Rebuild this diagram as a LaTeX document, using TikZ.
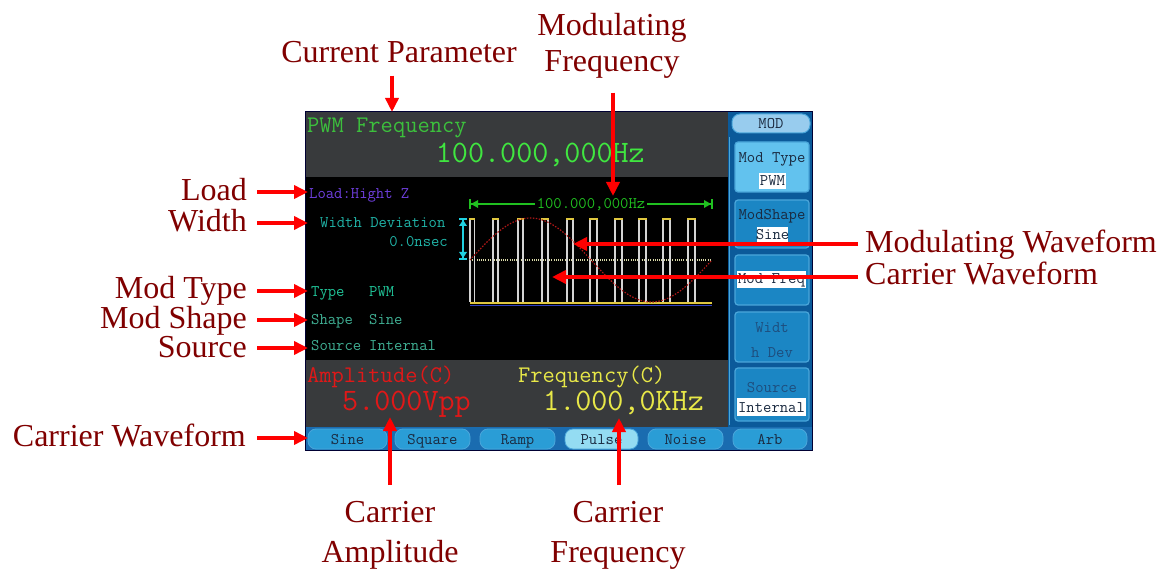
\documentclass[tikz,border=0pt]{standalone}
\usepackage{fontspec}
\setmainfont{Liberation Serif}
\usetikzlibrary{arrows.meta,calc}
\definecolor{labelred}{HTML}{800000}
\definecolor{arrowred}{HTML}{FF0000}
\definecolor{scrgray}{HTML}{383A3C}
\definecolor{pwmgreen}{HTML}{3CC03C}
\definecolor{biggreen}{HTML}{40E640}
\definecolor{loadpurple}{HTML}{7040E0}
\definecolor{tealA}{HTML}{20B4A8}
\definecolor{tealB}{HTML}{20C498}
\definecolor{tealC}{HTML}{40B094}
\definecolor{ampred}{HTML}{E01818}
\definecolor{ampyel}{HTML}{E8E848}
\definecolor{panelbg}{HTML}{0B5A9A}
\definecolor{btnfill}{HTML}{1B86C4}
\definecolor{btnedge}{HTML}{4AA6DA}
\definecolor{btnlight}{HTML}{62C2EE}
\definecolor{modhead}{HTML}{98CCEE}
\definecolor{barbg}{HTML}{1A6CB0}
\definecolor{tabfill}{HTML}{2A9DD6}
\definecolor{tablight}{HTML}{94DCF2}
\definecolor{tabtext}{HTML}{1A2A40}
\definecolor{mutedtext}{HTML}{1E4E7E}
\definecolor{sinered}{HTML}{B01818}
\definecolor{midline}{HTML}{D8D8A8}
\definecolor{capyel}{HTML}{E0C840}
\definecolor{pulsegray}{HTML}{D4D4D4}
\definecolor{measgreen}{HTML}{20C020}
\definecolor{markcyan}{HTML}{20D0E0}
\definecolor{baseblue}{HTML}{3040C0}
\tikzset{
  lbl/.style={text=labelred, font=\fontsize{32}{36}\selectfont, inner sep=0pt},
  callout/.style={draw=arrowred, line width=3.5pt, -{Triangle[length=14pt,width=13pt]}},
  scrS/.style={font=\ttfamily\fontsize{16.2}{18}\selectfont, inner sep=0pt},
  scrM/.style={font=\ttfamily\fontsize{23.8}{26}\selectfont, inner sep=0pt},
  scrL/.style={font=\ttfamily\fontsize{31.2}{34}\selectfont, inner sep=0pt},
  tabbox/.style={fill=tabfill, draw=btnedge, line width=0.8pt, rounded corners=8pt},
  btnbox/.style={fill=btnfill, draw=btnedge, line width=1.2pt, rounded corners=3pt},
  valbox/.style={fill=white, draw=none},
  pulseline/.style={draw=pulsegray, line width=1.3pt},
  pulsecap/.style={draw=capyel, line width=1.8pt},
}
\begin{document}
\begin{tikzpicture}[x=1pt,y=-1pt]
\useasboundingbox (0,0) rectangle (1165,569);
\fill[white] (0,0) rectangle (1165,569);

% ---------- screen ----------
\fill[scrgray] (305,111) rectangle (728,177);
\fill[black] (305,177) rectangle (728,360);
\fill[scrgray] (305,360) rectangle (728,427);
\fill[panelbg] (728,111) rectangle (812,427);
\fill[barbg] (305,427) rectangle (812,450);
\draw[draw=btnedge, line width=1pt] (729,137) -- (729,425);

% header
\node[scrM, text=pwmgreen, anchor=base west] (pwmf) at (307,133) {PWM Frequency};
\node[scrL, text=biggreen, anchor=base east] (pwmval) at (645,163) {100.000,000Hz};

% left info
\node[scrS, text=loadpurple, anchor=base west] (tload) at (309,199) {Load:Hight Z};
\node[scrS, text=tealA, anchor=base west] (twd) at (320,228) {Width Deviation};
\node[scrS, text=tealA, anchor=base east] (twdv) at (448,247) {0.0nsec};
\node[scrS, text=tealB, anchor=base west] (ttype) at (311,297) {Type};
\node[scrS, text=tealB, anchor=base west] (ttypev) at (369,297) {PWM};
\node[scrS, text=tealC, anchor=base west] (tshape) at (311,325) {Shape};
\node[scrS, text=tealC, anchor=base west] (tshapev) at (369,325) {Sine};
\node[scrS, text=tealC, anchor=base west] (tsrc) at (311,351) {Source};
\node[scrS, text=tealC, anchor=base west] (tsrcv) at (369,351) {Internal};

% waveform
\draw[draw=capyel, line width=2pt] (470,303) -- (712,303);
\draw[draw=baseblue, line width=1pt] (470,305.5) -- (712,305.5);
\draw[draw=midline, line width=1.2pt, dash pattern=on 1pt off 1.2pt] (470,260) -- (712,260);
\foreach \a/\w in {470/4.5,493/5,518/5,542/6,567/6,590/7,615/7,639/7,663/7,688/7}{
  \draw[pulseline] (\a,302) -- (\a,220);
  \draw[pulseline] (\a+\w,220) -- (\a+\w,302);
  \draw[pulsecap] (\a-0.6,219) -- (\a+\w+0.6,219);
}
\draw[draw=sinered, line width=1.2pt, dash pattern=on 1.5pt off 1.5pt]
  plot[domain=0:1, samples=90] ({470+242*\x},{260-42*sin(360*\x)});

% measurement line
\draw[draw=measgreen, line width=1.5pt] (470,204) -- (712,204);
\draw[draw=measgreen, line width=1.5pt] (470,199) -- (470,209) (712,199) -- (712,209);
\fill[measgreen] (471,204) -- (478,200) -- (478,208) -- cycle;
\fill[measgreen] (711,204) -- (704,200) -- (704,208) -- cycle;
\node[scrS, text=measgreen, fill=black, inner xsep=1.5pt, anchor=base] (tmeas) at (591,208.5) {100.000,000Hz};

% width marker
\draw[draw=markcyan, line width=1.3pt] (463,219) -- (463,259);
\draw[draw=markcyan, line width=1.5pt] (459,219) -- (467,219) (459,259) -- (467,259);
\fill[markcyan] (463,220) -- (459,226) -- (467,226) -- cycle;
\fill[markcyan] (463,258) -- (459,252) -- (467,252) -- cycle;

% bottom info
\node[scrM, text=ampred, anchor=base west] (tamp) at (307,382) {Amplitude(C)};
\node[scrL, text=ampred, anchor=base west] (tampv) at (342,410) {5.000Vpp};
\node[scrM, text=ampyel, anchor=base west] (tfreq) at (518,382) {Frequency(C)};
\node[scrL, text=ampyel, anchor=base west] (tfreqv) at (543,410) {1.000,0KHz};

% tabs
\foreach \l/\r/\t/\n in {308/387/Sine/tsine,395/470/Square/tsquare,480/555/Ramp/tramp,648/723/Noise/tnoise,733/807/Arb/tarb}{
  \draw[tabbox] (\l,429) rectangle (\r,449);
  \node[scrS, text=tabtext, anchor=base] (\n) at ({(\l+\r)/2},444.5) {\t};
}
\draw[tabbox, fill=tablight] (565,429) rectangle (638,449);
\node[scrS, text=tabtext, anchor=base] (tpulse) at (601.5,444.5) {Pulse};

% right panel
\draw[fill=modhead, draw=btnedge, line width=1pt, rounded corners=8pt] (732,114) rectangle (810,133);
\node[scrS, text=tabtext, anchor=base] (tmod) at (771,129) {MOD};
\draw[btnbox, fill=btnlight] (735,142) rectangle (809,192);
\draw[btnbox] (735,200) rectangle (809,248);
\draw[btnbox] (735,255) rectangle (809,305);
\draw[btnbox] (735,312) rectangle (809,362);
\draw[btnbox] (735,368) rectangle (809,421);
\fill[valbox] (759,173) rectangle (786,189);
\fill[valbox] (757,227) rectangle (788,243);
\fill[valbox] (737,271) rectangle (806,288);
\fill[valbox] (737,398) rectangle (806,416);
\node[scrS, text=tabtext, anchor=base] (bmt) at (772,163) {Mod Type};
\node[scrS, text=tabtext, anchor=base] (bmtv) at (772.5,186) {PWM};
\node[scrS, text=tabtext, anchor=base] (bms) at (772,220) {ModShape};
\node[scrS, text=tabtext, anchor=base] (bmsv) at (772.5,240) {Sine};
\node[scrS, text=tabtext, anchor=base] (bmf) at (771.5,284) {Mod Freq};
\node[scrS, text=mutedtext, anchor=base] (bwd1) at (772,333) {Widt};
\node[scrS, text=mutedtext, anchor=base] (bwd2) at (772,357) {h Dev};
\node[scrS, text=mutedtext, anchor=base] (bsrc) at (772,392) {Source};
\node[scrS, text=tabtext, anchor=base] (bsrcv) at (771.5,412) {Internal};

\draw[draw=black!80!blue, line width=0.8pt] (305,111) rectangle (812,450);

% ---------- callout labels ----------
\node[lbl, anchor=base] (lcur) at (399,63) {Current Parameter};
\node[lbl, anchor=north, align=center] (lmf) at (612,13) {Modulating\\Frequency};
\node[lbl, anchor=base east] (lload) at (247,201) {Load};
\node[lbl, anchor=base east] (lwidth) at (247,232) {Width};
\node[lbl, anchor=base east] (lmt) at (247,299) {Mod Type};
\node[lbl, anchor=base east] (lms) at (247,329) {Mod Shape};
\node[lbl, anchor=base east] (lsrc) at (247,358) {Source};
\node[lbl, anchor=base east] (lcw) at (246,446) {Carrier Waveform};
\node[lbl, anchor=base west] (lmw) at (865,253) {Modulating Waveform};
\node[lbl, anchor=base west] (lcw2) at (865,285) {Carrier Waveform};
\node[lbl, anchor=north, align=center, font=\fontsize{32}{40}\selectfont] (lamp) at (390,501) {Carrier\\Amplitude};
\node[lbl, anchor=north, align=center, font=\fontsize{32}{40}\selectfont] (lfr) at (618,501) {Carrier\\Frequency};

% arrow targets
\coordinate (acur) at (392,112);
\coordinate (amf) at (613,196);
\coordinate (aload) at (308,192);
\coordinate (awidth) at (308,223);
\coordinate (amt) at (308,291);
\coordinate (ams) at (308,320);
\coordinate (asrc) at (308,348);
\coordinate (acw) at (308,438);
\coordinate (amw) at (573,244);
\coordinate (acw2) at (552,277);
\coordinate (aamp) at (390,417);
\coordinate (afr) at (619,418);

\draw[callout] ($(lcur.south -| acur)+(0,12)$) -- (acur);
\draw[callout] ($(lmf.south -| amf)+(0,14)$) -- (amf);
\draw[callout] ($(lload.east |- aload)+(10,0)$) -- (aload);
\draw[callout] ($(lwidth.east |- awidth)+(10,0)$) -- (awidth);
\draw[callout] ($(lmt.east |- amt)+(10,0)$) -- (amt);
\draw[callout] ($(lms.east |- ams)+(10,0)$) -- (ams);
\draw[callout] ($(lsrc.east |- asrc)+(10,0)$) -- (asrc);
\draw[callout] ($(lcw.east |- acw)+(11,0)$) -- (acw);
\draw[callout] ($(lmw.west |- amw)+(-7,0)$) -- (amw);
\draw[callout] ($(lcw2.west |- acw2)+(-7,0)$) -- (acw2);
\draw[callout] ($(lamp.north -| aamp)+(0,-16)$) -- (aamp);
\draw[callout] ($(lfr.north -| afr)+(0,-16)$) -- (afr);
\end{tikzpicture}
\end{document}
